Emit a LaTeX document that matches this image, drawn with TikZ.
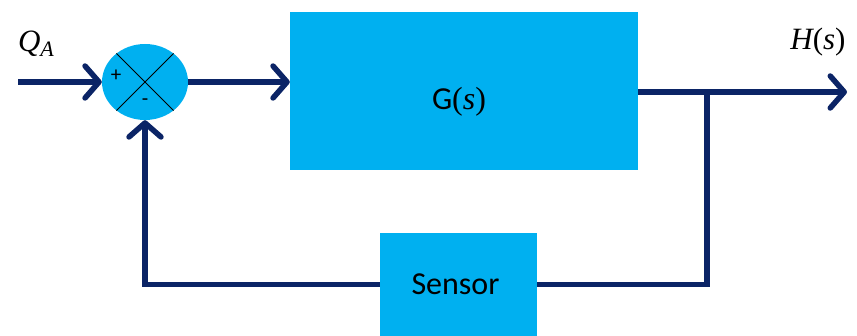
\documentclass[tikz,border=0pt]{standalone}
\usepackage{fontspec}
\setmainfont{Carlito}
\newfontfamily\mathlike{Liberation Serif}
\usetikzlibrary{arrows.meta,shapes.geometric}
\definecolor{blk}{HTML}{00B0F0}
\definecolor{navy}{HTML}{0B2466}
\newcommand{\mvar}[1]{{\mathlike\itshape #1}}
\newcommand{\mpar}[1]{{\mathlike (}\mvar{#1}{\mathlike )}}
\begin{document}
\begin{tikzpicture}[x=1pt,y=-1pt,
  blockbox/.style={draw=none,fill=blk,inner sep=0pt,font=\fontsize{32}{36}\selectfont},
  wire/.style={draw=navy,line width=5.5pt},
  flow/.style={wire,-{Straight Barb[length=14pt,width=32pt,round]}},
  lbl/.style={font=\fontsize{31}{36}\selectfont,inner sep=0pt}]
\useasboundingbox (0,0) rectangle (857,336);
\node[blockbox,minimum width=348pt,minimum height=158pt] (G) at (464,91) {\hspace*{-10pt}\raisebox{-19pt}[0pt][0pt]{G\mpar{s}}};
\node[blockbox,minimum width=157pt,minimum height=103pt] (S) at (458.5,284.5) {\hspace*{-6pt}Sensor};
\node[ellipse,fill=blk,minimum width=86pt,minimum height=76pt,inner sep=0pt] (sum) at (145,82) {};
\draw[black,line width=1pt] (sum.135) -- (sum.-45);
\draw[black,line width=1pt] (sum.45) -- (sum.-135);
\node[font=\fontsize{21}{24}\selectfont,inner sep=0pt] (plus) at (116,76) {+};
\node[font=\fontsize{21}{24}\selectfont,inner sep=0pt] (minus) at (145,102) {-};
\node[lbl] (qa) at (36,44) {\mvar{Q}\raisebox{-5pt}{\fontsize{22}{24}\selectfont\mvar{A}}};
\node[lbl] (hs) at (818,42) {\mvar{H}\mpar{s}};
\coordinate (in) at (18,82);
\coordinate (out) at (847,92);
\coordinate (br) at (707,92);
\coordinate (fb) at (sum.south |- S.west);
\draw[flow] (in) -- (sum.west);
\draw[flow] (sum.east) -- (G.west |- sum.east);
\draw[flow] (G.east |- out) -- (out);
\draw[wire] (br) -- (br |- S.east) -- (S.east);
\draw[flow] (S.west) -- (fb) -- (sum.south);
\end{tikzpicture}
\end{document}
